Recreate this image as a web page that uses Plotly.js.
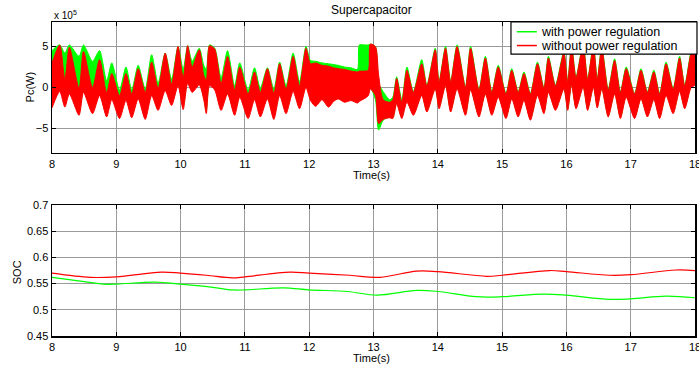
<!DOCTYPE html>
<html>
<head>
<meta charset="utf-8">
<script src="https://cdn.plot.ly/plotly-3.0.1.min.js"></script>
<style>
  html, body { margin: 0; padding: 0; background: #fff; }
  #chart { width: 699px; height: 365px; }
</style>
</head>
<body>
<div id="chart"></div>
<script>
// Supercapacitor power (x 10^5 W): envelope of the fast ripple, sampled at each
// oscillation peak / trough.
const tPower = [8.00, 8.12, 8.20, 8.27, 8.42, 8.49, 8.63, 8.74, 8.85, 8.93,
  9.05, 9.15, 9.24, 9.34, 9.45, 9.55, 9.65, 9.76, 9.86, 9.96,
  10.04, 10.11, 10.18, 10.29, 10.36, 10.40, 10.45, 10.53, 10.63, 10.73,
  10.84, 10.92, 11.05, 11.15, 11.24, 11.35, 11.45, 11.54, 11.64, 11.75,
  11.85, 11.95, 12.02, 12.10, 12.20, 12.30, 12.38, 12.45, 12.55, 12.65,
  12.75, 12.78, 12.85, 12.92, 12.95, 13.03, 13.08, 13.15, 13.25, 13.30,
  13.36, 13.44, 13.52, 13.62, 13.75, 13.83, 13.96, 14.02, 14.12, 14.20,
  14.30, 14.43, 14.51, 14.64, 14.74, 14.84, 14.94, 15.06, 15.15, 15.25,
  15.34, 15.44, 15.55, 15.65, 15.72, 15.83, 15.96, 16.02, 16.08, 16.15,
  16.26, 16.33, 16.42, 16.48, 16.55, 16.65, 16.75, 16.84, 16.93, 17.06,
  17.16, 17.26, 17.36, 17.45, 17.55, 17.66, 17.76, 17.84, 17.94, 18.00];

const withUpper = [4.5, 5.2, 4.2, 5.2, 3.8, 5.2, 3.2, 4.5, 0.8, 3.0,
  -0.3, 2.5, -0.3, 2.7, -0.2, 4.0, 0.5, 4.2, 1.0, 5.0,
  2.2, 5.1, 3.2, 4.8, 2.7, 2.2, 5.2, 4.8, 1.2, 4.5,
  0.2, 3.0, -0.3, 2.4, -0.1, 2.4, -0.2, 3.1, 0.2, 4.2,
  0.7, 5.0, 3.3, 3.2, 3.0, 2.9, 2.8, 2.7, 2.5, 2.4,
  2.2, 5.2, 5.2, 5.2, 5.3, 5.0, 0.5, -0.5, -1.5, -1.2,
  1.3, -1.5, 2.5, -0.5, 3.4, 0.3, 4.8, 0.8, 5.0, 0.8,
  5.2, 0.1, 5.0, -0.2, 3.8, -0.5, 2.7, -0.7, 2.3, -0.5,
  1.9, -0.7, 3.1, 0.0, 3.8, 0.3, 4.4, 0.8, 5.2, 1.3,
  5.3, 1.1, 5.2, 1.1, 5.0, -0.2, 3.5, -0.5, 2.5, -0.7,
  2.3, -0.5, 2.1, -0.7, 3.1, -0.1, 3.8, 0.3, 4.4, 5.2];
const withLower = [-2.0, 0.5, -1.5, 0.0, -2.8, 0.0, -2.6, -0.5, -3.0, -0.8,
  -3.2, -1.0, -3.2, -0.8, -3.2, -0.5, -2.3, 0.0, -1.8, 0.5,
  -2.2, 0.8, -0.3, 0.5, -1.2, -2.8, 0.5, 0.0, -2.4, -0.5,
  -3.0, -0.8, -3.3, -1.0, -3.2, -1.0, -3.4, -0.6, -2.8, -0.2,
  -2.2, 0.3, -1.3, -2.0, -1.3, -2.0, -1.5, -1.2, -1.5, -1.3,
  -1.6, -1.2, -0.8, -0.5, 0.0, -1.5, -5.2, -4.0, -3.6, -3.7,
  -1.8, -3.6, -1.5, -3.2, -0.8, -2.8, 0.0, -2.4, 0.4, -2.8,
  0.0, -3.2, -0.1, -3.4, -0.6, -3.2, -1.0, -3.6, -1.2, -3.4,
  -1.4, -3.8, -0.8, -3.0, -0.4, -2.6, 0.0, -2.6, 0.5, -2.4,
  0.2, -2.6, 0.2, -2.3, 0.0, -3.4, -0.6, -3.6, -1.0, -3.6,
  -1.2, -3.4, -1.3, -3.6, -0.8, -3.0, -0.3, -2.4, 0.2, 0.5];

const withoutUpper = [3.0, 5.2, 1.0, 4.9, -0.1, 4.4, 0.0, 3.4, -0.6, 1.7,
  -1.0, 1.7, -0.8, 2.3, -0.6, 3.1, -0.1, 4.2, 0.4, 5.0,
  1.2, 5.1, 2.5, 4.6, 1.5, 0.9, 5.1, 4.7, 0.5, 3.8,
  -0.3, 2.5, -0.8, 1.9, -0.6, 2.3, -0.7, 2.9, -0.2, 3.8,
  0.2, 4.8, 2.9, 3.0, 2.7, 2.6, 2.4, 2.3, 2.2, 2.0,
  1.9, 2.0, 2.0, 2.1, 5.3, 5.0, 1.5, -1.5, -1.8, -1.5,
  1.1, -1.8, 2.1, -0.6, 2.9, 0.2, 4.6, 0.7, 4.8, 0.7,
  5.0, 0.0, 4.8, -0.3, 3.6, -0.6, 2.5, -0.8, 2.1, -0.6,
  1.7, -0.8, 2.9, -0.1, 3.6, 0.2, 4.2, 0.7, 5.0, 1.2,
  5.2, 1.0, 5.0, 1.0, 4.8, -0.3, 3.3, -0.6, 2.3, -0.8,
  2.1, -0.6, 1.9, -0.8, 2.9, -0.2, 3.6, 0.2, 4.2, 5.0];
const withoutLower = [-2.5, -0.5, -2.4, -0.8, -3.4, -0.6, -3.2, -1.0, -3.6, -1.5,
  -3.8, -1.6, -3.7, -1.4, -3.9, -1.0, -2.8, -0.4, -2.2, 0.2,
  -2.7, 0.5, -0.6, 0.3, -1.5, -3.2, 0.2, -0.3, -2.8, -0.8,
  -3.4, -1.2, -3.8, -1.5, -3.6, -1.4, -3.9, -1.0, -3.2, -0.5,
  -2.6, 0.0, -1.6, -2.3, -1.5, -2.4, -1.7, -1.4, -1.8, -1.6,
  -1.9, -1.7, -1.4, -1.0, -0.2, -1.0, -4.4, -3.9, -3.7, -3.8,
  -2.0, -3.8, -1.8, -3.4, -1.0, -3.0, -0.2, -2.6, 0.2, -3.0,
  -0.2, -3.4, -0.3, -3.6, -0.8, -3.4, -1.2, -3.8, -1.4, -3.6,
  -1.6, -4.0, -1.0, -3.2, -0.6, -2.8, -0.2, -2.8, 0.3, -2.6,
  0.0, -2.8, 0.0, -2.5, -0.2, -3.6, -0.8, -3.8, -1.2, -3.8,
  -1.4, -3.6, -1.5, -3.8, -1.0, -3.2, -0.5, -2.6, 0.0, 0.3];

// State of charge
const tSocWith = [8.0, 8.5, 8.8, 9.0, 9.6, 10.0, 10.5, 10.8, 11.0, 11.6,
  12.0, 12.6, 13.05, 13.67, 14.0, 14.6, 15.0, 15.64, 16.0, 16.67, 17.0, 17.55, 18.0];
const socWith = [0.562, 0.554, 0.549, 0.549, 0.553, 0.549, 0.543, 0.538, 0.538, 0.542,
  0.538, 0.535, 0.528, 0.537, 0.535, 0.525, 0.525, 0.530, 0.528, 0.520, 0.521, 0.526, 0.523];
const tSocWithout = [8.0, 8.6, 9.0, 9.7, 10.0, 10.4, 10.8, 11.0, 11.7, 12.0,
  12.63, 13.1, 13.67, 14.0, 14.76, 15.0, 15.74, 16.0, 16.67, 17.0, 17.7, 18.0];
const socWithout = [0.570, 0.562, 0.563, 0.572, 0.570, 0.566, 0.561, 0.563, 0.572, 0.570,
  0.566, 0.562, 0.574, 0.573, 0.564, 0.566, 0.575, 0.573, 0.566, 0.567, 0.576, 0.575];

const seriesNames = ['with power regulation', 'without power regulation'];
const xTicks = [8, 9, 10, 11, 12, 13, 14, 15, 16, 17, 18];
const powerTicks = [-5, 0, 5];
const socTicks = [0.45, 0.5, 0.55, 0.6, 0.65, 0.7];
const socTickText = ['0.45', '0.5', '0.55', '0.6', '0.65', '0.7'];

const GREEN = '#00ff00';
const RED = '#ff0000';
const FONT = 'Liberation Sans, Arial, Helvetica, sans-serif';

function band(t, up, lo) {
  return {
    x: t.concat(t.slice().reverse()),
    y: up.concat(lo.slice().reverse())
  };
}

const gBand = band(tPower, withUpper, withLower);
const rBand = band(tPower, withoutUpper, withoutLower);

const traces = [
  { x: gBand.x, y: gBand.y, xaxis: 'x', yaxis: 'y', type: 'scatter', mode: 'lines',
    fill: 'toself', fillcolor: GREEN,
    line: { color: GREEN, width: 1, shape: 'spline', smoothing: 0.7 },
    showlegend: false, hoverinfo: 'skip' },
  { x: rBand.x, y: rBand.y, xaxis: 'x', yaxis: 'y', type: 'scatter', mode: 'lines',
    fill: 'toself', fillcolor: RED,
    line: { color: RED, width: 1, shape: 'spline', smoothing: 0.7 },
    showlegend: false, hoverinfo: 'skip' },
  { x: tSocWith, y: socWith, xaxis: 'x2', yaxis: 'y2', type: 'scatter', mode: 'lines',
    name: seriesNames[0], showlegend: false,
    line: { color: GREEN, width: 1.2, shape: 'spline' } },
  { x: tSocWithout, y: socWithout, xaxis: 'x2', yaxis: 'y2', type: 'scatter', mode: 'lines',
    name: seriesNames[1], showlegend: false,
    line: { color: RED, width: 1.2, shape: 'spline' } }
];

const axisBase = {
  showline: true, linecolor: '#000', linewidth: 1.5, mirror: 'ticks',
  ticks: 'inside', ticklen: 4, tickcolor: '#000',
  showgrid: true, gridcolor: '#9a9a9a', gridwidth: 1,
  zeroline: false, ticklabeloverflow: 'allow',
  tickfont: { family: FONT, size: 11, color: '#000' }
};

// Legend box (top-right of the power panel), in paper units
const LEG = { x0: 0.7138, x1: 1.0031, y0: 0.898, y1: 1.0 };
const legendRows = [
  { name: seriesNames[0], color: GREEN, y: 0.969 },
  { name: seriesNames[1], color: RED, y: 0.925 }
];

const shapes = [
  { type: 'rect', xref: 'paper', yref: 'paper', x0: LEG.x0, x1: LEG.x1, y0: LEG.y0, y1: LEG.y1,
    fillcolor: '#fff', line: { color: '#000', width: 1.2 }, layer: 'above' }
];
const annotations = [];
legendRows.forEach(function (r) {
  shapes.push({ type: 'line', xref: 'paper', yref: 'paper', x0: 0.723, x1: 0.754, y0: r.y, y1: r.y,
    line: { color: r.color, width: 1.5 }, layer: 'above' });
  annotations.push({ text: r.name, xref: 'paper', yref: 'paper', x: 0.758, y: r.y,
    xanchor: 'left', yanchor: 'middle', showarrow: false,
    font: { family: FONT, size: 12.5, color: '#000' } });
});

annotations.push(
  { text: 'Supercapacitor', xref: 'paper', yref: 'paper', x: 0.497, y: 1.038,
    xanchor: 'center', yanchor: 'middle', showarrow: false,
    font: { family: FONT, size: 12, color: '#000' } },
  { text: 'x 10<sup>5</sup>', xref: 'paper', yref: 'paper', x: 0.0, y: 1.022,
    xanchor: 'left', yanchor: 'middle', showarrow: false,
    font: { family: FONT, size: 10, color: '#000' } },
  { text: 'Pc(W)', xref: 'paper', yref: 'paper', x: -0.034, y: 0.792,
    xanchor: 'center', yanchor: 'middle', textangle: -90, showarrow: false,
    font: { family: FONT, size: 11, color: '#000' } },
  { text: 'Time(s)', xref: 'paper', yref: 'paper', x: 0.497, y: 0.512,
    xanchor: 'center', yanchor: 'middle', showarrow: false,
    font: { family: FONT, size: 11, color: '#000' } },
  { text: 'SOC', xref: 'paper', yref: 'paper', x: -0.054, y: 0.204,
    xanchor: 'center', yanchor: 'middle', textangle: -90, showarrow: false,
    font: { family: FONT, size: 11, color: '#000' } },
  { text: 'Time(s)', xref: 'paper', yref: 'paper', x: 0.497, y: -0.071,
    xanchor: 'center', yanchor: 'middle', showarrow: false,
    font: { family: FONT, size: 11, color: '#000' } }
);

const layout = {
  width: 699, height: 365,
  margin: { l: 52, r: 4, t: 22, b: 29 },
  paper_bgcolor: '#fff', plot_bgcolor: '#fff',
  font: { family: FONT, size: 11, color: '#000' },
  showlegend: false,
  xaxis: Object.assign({}, axisBase, {
    domain: [0, 1], anchor: 'y', range: [8, 18], tickvals: xTicks
  }),
  yaxis: Object.assign({}, axisBase, {
    domain: [0.583, 1], anchor: 'x', range: [-8, 8], tickvals: powerTicks
  }),
  xaxis2: Object.assign({}, axisBase, {
    domain: [0, 1], anchor: 'y2', range: [8, 18], tickvals: xTicks
  }),
  yaxis2: Object.assign({}, axisBase, {
    domain: [0, 0.417], anchor: 'x2', range: [0.45, 0.7],
    tickvals: socTicks, ticktext: socTickText
  }),
  shapes: shapes,
  annotations: annotations
};

Plotly.newPlot('chart', traces, layout, { staticPlot: true, displayModeBar: false });
</script>
</body>
</html>
